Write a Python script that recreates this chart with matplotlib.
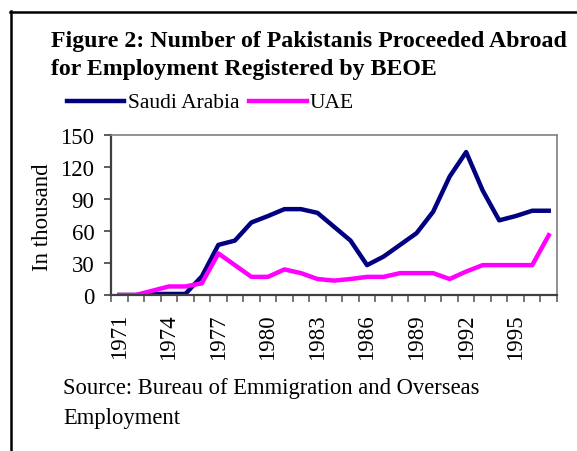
import matplotlib
matplotlib.use("Agg")
import matplotlib.pyplot as plt
from matplotlib.lines import Line2D

years = list(range(1971, 1998))
saudi = [0, 0, 1, 1, 1, 17.5, 47, 51, 68, 74, 80.5, 80.5, 77, 64, 51,
         28, 36, 47, 58, 78, 111, 134, 98, 70, 74, 79, 79]
uae = [0, 0, 4, 8, 8, 11, 39, 28, 17, 17, 24, 20.5, 15, 13.5, 15,
       17, 17, 20.5, 20.5, 20.5, 15, 22, 28, 28, 28, 28, 56]
yticks = [0, 30, 60, 90, 120, 150]
xlabel_years = [1971, 1974, 1977, 1980, 1983, 1986, 1989, 1992, 1995]

plt.rcParams['font.family'] = ['Liberation Serif', 'DejaVu Serif']

W, H = 577, 452
fig = plt.figure(figsize=(W / 100, H / 100), dpi=100)

def fx(px):
    return px / W

def fy(py):
    return 1 - py / H

NAVY = '#000080'
MAG = '#FF00FF'

# outer frame (left and top edges visible)
fig.add_artist(Line2D([fx(11), fx(11)], [fy(12), fy(460)], color='black', lw=1.8,
                      transform=fig.transFigure))
fig.add_artist(Line2D([fx(10), fx(600)], [fy(13), fy(13)], color='black', lw=1.8,
                      transform=fig.transFigure))

ax = fig.add_axes([fx(111), fy(296), fx(557) - fx(111), fy(136) - fy(296)])
x = list(range(len(years)))
ax.plot(x, saudi, color=NAVY, lw=3.2, label='Saudi Arabia')
ax.plot(x, uae, color=MAG, lw=3.2, label='UAE')

ax.set_xlim(-0.5, len(years) - 0.5)
ax.set_ylim(0, 150)
ax.set_yticks(yticks)
ax.set_yticklabels([str(v) for v in yticks], fontsize=16.5)
ax.tick_params(axis='y', direction='out', length=5, width=1.2, color='#404040', pad=7)

ax.set_xticks([i - 0.5 for i in range(len(years) + 1)])
ax.set_xticklabels([])
ax.tick_params(axis='x', which='major', direction='out', length=5, width=1.2, color='#606060')
ax.set_xticks([years.index(y) for y in xlabel_years], minor=True)
ax.set_xticklabels([str(y) for y in xlabel_years], minor=True, rotation=90, fontsize=16.5)
ax.tick_params(axis='x', which='minor', length=0, pad=13)

for s in ['top', 'right']:
    ax.spines[s].set_color('#808080')
    ax.spines[s].set_linewidth(1.2)
for s in ['left', 'bottom']:
    ax.spines[s].set_color('#404040')
    ax.spines[s].set_linewidth(1.6)

fig.text(fx(42), fy(217), 'In thousand', fontsize=16.5, rotation=90,
         va='center', ha='center')

fig.text(fx(51), fy(47.5), 'Figure 2: Number of Pakistanis Proceeded Abroad',
         fontsize=17.2, fontweight='bold', va='baseline', ha='left')
fig.text(fx(51), fy(75.5), 'for Employment Registered by BEOE',
         fontsize=17.2, fontweight='bold', va='baseline', ha='left')

# legend
fig.add_artist(Line2D([fx(67), fx(124)], [fy(102), fy(102)], color=NAVY, lw=3.2,
                      transform=fig.transFigure))
fig.text(fx(128), fy(107.5), 'Saudi Arabia', fontsize=15.5, va='baseline', ha='left')
fig.add_artist(Line2D([fx(249), fx(307)], [fy(102), fy(102)], color=MAG, lw=3.2,
                      transform=fig.transFigure))
fig.text(fx(310), fy(107.5), 'UAE', fontsize=15.5, va='baseline', ha='left')

fig.text(fx(63), fy(394), 'Source: Bureau of Emmigration and Overseas',
         fontsize=16.3, va='baseline', ha='left')
fig.text(fx(63), fy(424), 'Employment', fontsize=16.3, va='baseline', ha='left')

fig.savefig('out.png', dpi=100)
